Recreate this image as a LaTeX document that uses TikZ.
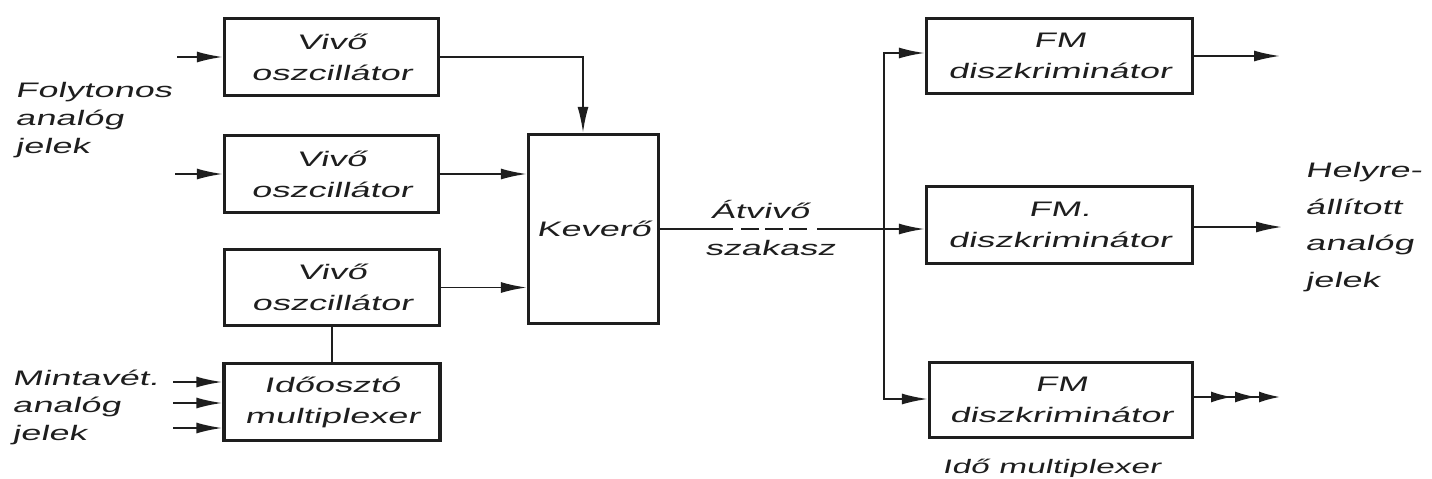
\documentclass[tikz,border=0pt]{standalone}
\usepackage{fontspec}
\newfontfamily\lett[FakeSlant=0.22,FakeStretch=1.72]{Liberation Sans}
\usetikzlibrary{arrows.meta}
\tikzset{
  blk/.style={draw=ink, line width=3.4pt, inner sep=0pt, align=center,
    text=ink, font=\lett\fontsize{21}{31}\selectfont},
  wire/.style={draw=ink, line width=1.9pt},
  arr/.style={-{Latex[length=26pt,width=11pt]}},
  lab/.style={inner sep=0pt, align=left, text=ink, font=\lett\fontsize{21}{28}\selectfont},
}
\definecolor{ink}{HTML}{1E1E1E}
\begin{document}
\begin{tikzpicture}[x=1pt,y=-1pt]
\useasboundingbox (0,0) rectangle (1432,479);
% blocks
\node[blk, minimum width=214pt, minimum height=77pt] (v1) at (331.5,57) {Vivő\\oszcillátor};
\node[blk, minimum width=214pt, minimum height=77pt] (v2) at (331.5,174) {Vivő\\oszcillátor};
\node[blk, minimum width=215pt, minimum height=76pt] (v3) at (332,287.5) {Vivő\\oszcillátor};
\node[blk, minimum width=216pt, minimum height=77pt] (ido) at (332,402) {Időosztó\\multiplexer};
\node[blk, minimum width=130pt, minimum height=189pt] (kev) at (593.5,229) {Keverő};
\node[blk, minimum width=266pt, minimum height=75pt] (fm1) at (1059.5,56) {FM\\diszkriminátor};
\node[blk, minimum width=266pt, minimum height=77pt] (fm2) at (1059.5,225) {FM.\\diszkriminátor};
\node[blk, minimum width=263pt, minimum height=75pt] (fm3) at (1061,400) {FM\\diszkriminátor};
% labels (base = baseline of last line)
\node[lab, anchor=base west] (lf) at (15,153) {Folytonos\\analóg\\jelek};
\node[lab, anchor=base west, font=\lett\fontsize{21}{27.5}\selectfont] (lm) at (12,440) {Mintavét.\\analóg\\jelek};
\node[lab, anchor=base west, font=\lett\fontsize{21}{36.5}\selectfont] (lh) at (1305,287) {Helyre-\\állított\\analóg\\jelek};
\node[lab, anchor=base] (la) at (760,218) {Átvivő};
\node[lab, anchor=base] (ls) at (770,255) {szakasz};
\node[lab, anchor=base west, font=\lett\fontsize{19.5}{28}\selectfont] (li) at (942,473) {Idő multiplexer};
% coordinates
\coordinate (i1) at (177,57);
\coordinate (i2) at (175,174);
\coordinate (m1) at (173,382);
\coordinate (m2) at (173,403);
\coordinate (m3) at (173,428);
\coordinate (kx) at (583,57);
\coordinate (dA) at (733,229);
\coordinate (dA1) at (741,229);
\coordinate (dB) at (807,229);
\coordinate (dC) at (817,229);
\coordinate (bt) at (884,53);
\coordinate (bb) at (884,399);
\coordinate (o1) at (1280,56);
\coordinate (o2) at (1282,227);
\coordinate (o3) at (1280,397);
% inputs
\draw[wire,arr] (i1) -- (i1 -| v1.west);
\draw[wire,arr] (i2) -- (i2 -| v2.west);
\draw[wire,arr] (m1) -- (m1 -| ido.west);
\draw[wire,arr] (m2) -- (m2 -| ido.west);
\draw[wire,arr] (m3) -- (m3 -| ido.west);
% to mixer
\draw[wire,arr] (v1.east) -- (kx) -- (kx |- kev.north);
\draw[wire,arr] (v2.east) -- (v2.east -| kev.west);
\draw[wire,arr] (v3.east) -- (v3.east -| kev.west);
\draw[wire] (v3.south) -- (ido.north);
% transmission
\draw[wire] (kev.east |- dA) -- (dA);
\draw[wire, dash pattern=on 18pt off 6pt] (dA1) -- (dB);
\draw[wire,arr] (dC) -- (dC -| fm2.west);
\draw[wire,{Latex[length=26pt,width=11pt]}-{Latex[length=26pt,width=11pt]}] (bt -| fm1.west) -- (bt) -- (bb) -- (bb -| fm3.west);
% outputs
\draw[wire,arr] (o1 -| fm1.east) -- (o1);
\draw[wire,arr] (o2 -| fm2.east) -- (o2);
\draw[wire,-{Latex[length=21pt,width=11pt,sep=3pt]Latex[length=21pt,width=11pt,sep=3pt]Latex[length=21pt,width=11pt]}] (o3 -| fm3.east) -- (o3);
\end{tikzpicture}
\end{document}
